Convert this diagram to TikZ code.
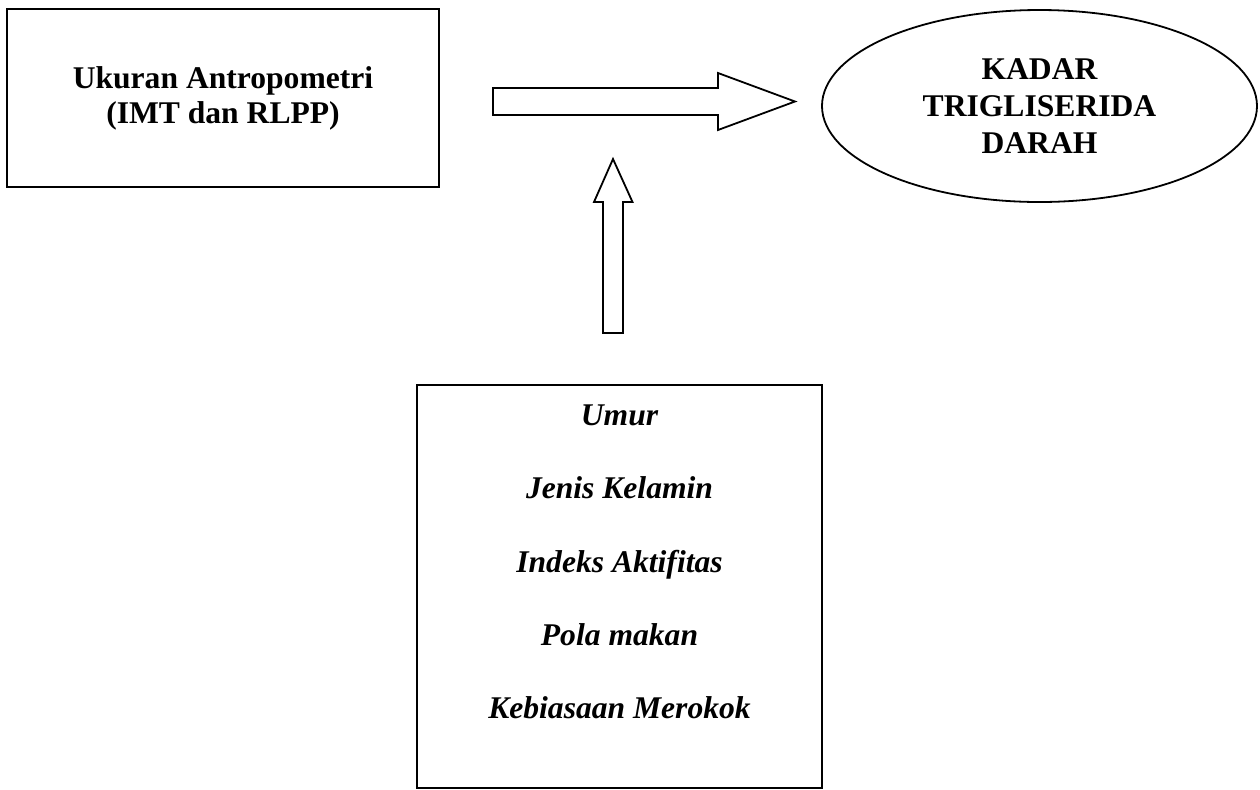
\documentclass[tikz,border=0pt]{standalone}
\usepackage{fontspec}
\setmainfont{Liberation Serif}
\usetikzlibrary{shapes.geometric}

\tikzset{
  kotak/.style={draw,line width=0.9pt,rectangle,inner sep=0pt},
  elips/.style={draw,line width=0.9pt,ellipse,inner sep=0pt},
  teks/.style={font=\fontsize{15.8pt}{17.5pt}\selectfont\bfseries,align=center},
  miring/.style={font=\fontsize{15.8pt}{17.5pt}\selectfont\bfseries\itshape,anchor=base},
  panah/.style={line width=0.9pt,line join=miter}
}

\begin{document}
\begin{tikzpicture}[x=0.5pt,y=-0.5pt]
  \useasboundingbox (0,0) rectangle (1260,789);
  % kotak kiri atas dan elips kanan
  \node[kotak,teks,minimum width=216pt,minimum height=89pt] (ukuran) at (223,98)
        {Ukuran Antropometri\\(IMT dan RLPP)};
  \node[elips,teks,font=\fontsize{15.8pt}{18.5pt}\selectfont\bfseries,
        minimum width=217.5pt,minimum height=96pt] (kadar) at (1039.5,106)
        {KADAR\\TRIGLISERIDA\\DARAH};
  % kotak bawah dengan faktor lain
  \node[kotak,minimum width=202.5pt,minimum height=201.5pt] (faktor) at (619.5,586.5) {};
  \node[miring] (umur)    at (619.5,425) {Umur};
  \node[miring] (jenis)   at (619.5,498) {Jenis Kelamin};
  \node[miring] (indeks)  at (619.5,572) {Indeks Aktifitas};
  \node[miring] (pola)    at (619.5,645) {Pola makan};
  \node[miring] (rokok)   at (619.5,718) {Kebiasaan Merokok};
  % panah blok
  \coordinate (kananA) at (493,101.5);
  \coordinate (kananB) at (795,101.5);
  \draw[panah] (kananA) ++(0,-13.5) -- ++(225,0) -- ++(0,-15) -- (kananB)
        -- ++(-77,28.5) -- ++(0,-15) -- ++(-225,0) -- cycle;
  \coordinate (atasA) at (613,333);
  \coordinate (atasB) at (613,159);
  \draw[panah] (atasA) ++(-10,0) -- ++(0,-131) -- ++(-9,0) -- (atasB)
        -- ++(19.5,43) -- ++(-9.5,0) -- ++(0,131) -- cycle;
\end{tikzpicture}
\end{document}
